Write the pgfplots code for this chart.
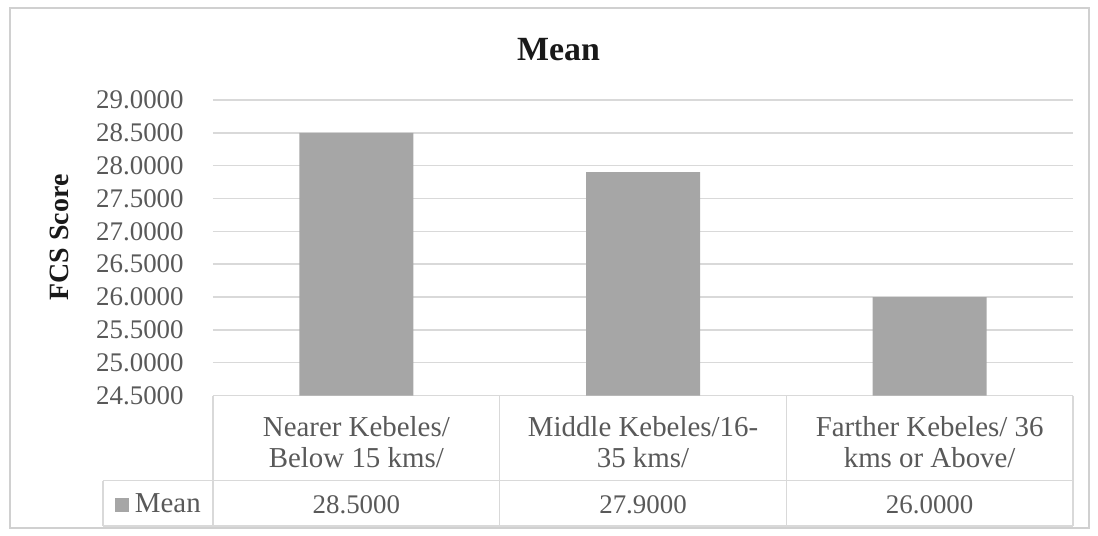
\documentclass[border=0pt]{standalone}
\usepackage{fontspec}
\setmainfont{Liberation Serif}
\usepackage{pgfplots}
\usepackage{pgfplotstable}
\pgfplotsset{compat=1.18}

\definecolor{barfill}{HTML}{A6A6A6}
\definecolor{gridgray}{HTML}{D9D9D9}
\definecolor{labelgray}{HTML}{595959}
\definecolor{framegray}{HTML}{D0D0D0}

\newcommand\tickfont{\fontsize{13.5}{15}\selectfont}
\newcommand\catfont{\fontsize{14.5}{15.5}\selectfont}

% Mean FCS score by distance group
\pgfplotstableread{
pos mean
0 28.5
1 27.9
2 26.0
}\meandata

\begin{document}
\begin{tikzpicture}[x=1bp,y=1bp]
\useasboundingbox (-106.5,-69.75) rectangle (442.5,197.75);
\draw[framegray, line width=0.6bp] (-101.5,193.75) rectangle (438,-66.25);

\begin{axis}[
  at={(0,0)}, anchor=south west,
  scale only axis, width=430bp, height=147.75bp,
  xmin=-0.5, xmax=2.5, ymin=24.5, ymax=29,
  axis line style={draw=none},
  major tick length=0pt,
  xtick=data,
  xticklabels={{Nearer Kebeles/\\Below 15 kms/},{Middle Kebeles/16-\\35 kms/},{Farther Kebeles/ 36\\kms or Above/}},
  xticklabel style={align=center, anchor=center, yshift=-23.5bp, font=\catfont, text=labelgray},
  ytick={24.5,25,...,29},
  yticklabel style={anchor=east, inner sep=0pt, xshift=-14.5bp, font=\tickfont, text=labelgray},
  scaled y ticks=false,
  /pgf/number format/fixed,
  /pgf/number format/fixed zerofill,
  /pgf/number format/precision=4,
  /pgf/number format/assume math mode=true,
  ymajorgrids,
  grid style={gridgray, line width=0.75bp},
  legend style={draw=none, fill=none, at={(axis description cs:-0.114,-0.370)}, anchor=west,
    inner sep=0pt, outer sep=0pt, font=\catfont, text=labelgray, nodes={inner sep=0pt}, column sep=3bp},
]
\addplot[ybar, bar width=57bp, fill=barfill, draw=none,
  legend image code/.code={\fill[barfill] (0bp,-3.5bp) rectangle (7bp,3.5bp);}]
  table[x=pos, y=mean]{\meandata};
\addlegendentry{Mean}
% value row of the data table under the categories
\addplot[draw=none, mark=none, forget plot, point meta=explicit,
  nodes near coords,
  nodes near coords style={anchor=base, yshift=-59bp, font=\tickfont, text=labelgray}]
  table[x=pos, y expr=24.5, meta=mean]{\meandata};
\end{axis}

% data table grid
\begin{scope}[gridgray, line width=0.75bp]
  \draw (-55,-42.5) -- (430,-42.5);
  \draw (-55,-65.25) -- (430,-65.25);
  \draw (-55,-42.5) -- (-55,-65.25);
  \foreach \xx in {0,143.33,286.67,430} \draw (\xx,0) -- (\xx,-65.25);
\end{scope}

\node[anchor=base, font=\fontsize{17}{20}\selectfont\bfseries, text=black!90] at (172.75,167.5) {Mean};
\node[rotate=90, font=\fontsize{14}{16}\selectfont\bfseries, text=black!90] at (-77,79) {FCS Score};
\end{tikzpicture}
\end{document}
